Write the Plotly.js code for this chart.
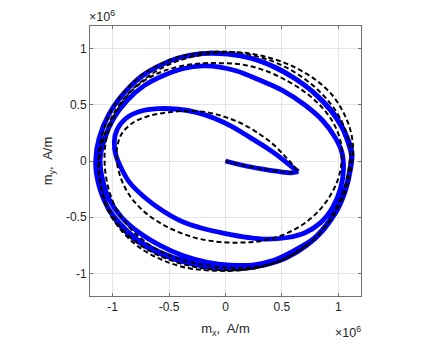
<!DOCTYPE html>
<html>
<head>
<meta charset="utf-8">
<script src="https://cdn.plot.ly/plotly-3.0.1.min.js"></script>
<style>html,body{margin:0;padding:0;background:#fff;}#chart{width:436px;height:345px;}</style>
</head>
<body>
<div id="chart"></div>
<script>
// Values in units of 1e6 A/m (axis exponent shown as ×10^6)
const tickVals = [-1, -0.5, 0, 0.5, 1];
const tickText = ["-1", "-0.5", "0", "0.5", "1"];

// Simulated (blue) trajectory: initial segment to the tip
const blueStartX = [0, 0.16, 0.32, 0.48, 0.58, 0.645];
const blueStartY = [0, -0.04, -0.07, -0.095, -0.105, -0.095];
// Simulated (blue) trajectory: from the tip onward
const blueX = [0.645, 0.56, 0.46, 0.36, 0.2, 0.05, -0.1, -0.25, -0.42, -0.6, -0.76, -0.88, -0.96, -0.985, -0.97, -0.92, -0.85, -0.72, -0.56, -0.38, -0.2, 0.0, 0.2, 0.36, 0.55, 0.7, 0.84, 0.95, 1.02,
  1.045, 1.03, 0.97, 0.86, 0.7, 0.5, 0.3, 0.1, -0.05, -0.2, -0.38, -0.55, -0.72, -0.87, -0.99, -1.07, -1.11,
  -1.09, -1.03, -0.92, -0.76, -0.58, -0.38, -0.16, 0.04, 0.24, 0.42, 0.6, 0.78, 0.92, 1.03, 1.09, 1.115,
  1.09, 1.03, 0.93, 0.8, 0.65, 0.45, 0.24, 0.02, -0.2, -0.4, -0.58, -0.75, -0.9, -1.03, -1.12, -1.15,
  -1.13, -1.06, -0.94, -0.78, -0.58, -0.36, -0.12, 0.1, 0.3, 0.5, 0.68, 0.84, 0.97, 1.06, 1.11, 1.12,
  1.09, 1.02, 0.92, 0.78, 0.62, 0.42, 0.2, -0.02, -0.22, -0.42, -0.6, -0.77, -0.92, -1.04, -1.12, -1.15,
  -1.12, -1.04, -0.91, -0.74, -0.54, -0.32, -0.08, 0.14, 0.34, 0.54, 0.72, 0.87, 0.99, 1.07, 1.11];
const blueY = [-0.095, -0.03, 0.05, 0.12, 0.22, 0.31, 0.38, 0.43, 0.46, 0.465, 0.44, 0.38, 0.28, 0.17, 0.05, -0.07, -0.19, -0.32, -0.44, -0.54, -0.6, -0.645, -0.68, -0.695, -0.68, -0.64, -0.55, -0.41, -0.24,
  -0.07, 0.08, 0.21, 0.36, 0.5, 0.63, 0.72, 0.8, 0.835, 0.845, 0.82, 0.76, 0.67, 0.54, 0.38, 0.2, 0.02,
  -0.16, -0.34, -0.5, -0.64, -0.75, -0.84, -0.9, -0.925, -0.925, -0.885, -0.8, -0.69, -0.53, -0.34, -0.14, 0.05,
  0.15, 0.3, 0.45, 0.59, 0.71, 0.83, 0.91, 0.95, 0.955, 0.92, 0.85, 0.75, 0.6, 0.42, 0.2, 0.0,
  -0.18, -0.38, -0.55, -0.7, -0.81, -0.89, -0.94, -0.95, -0.93, -0.87, -0.77, -0.64, -0.47, -0.27, -0.06, 0.08,
  0.18, 0.33, 0.47, 0.61, 0.73, 0.84, 0.92, 0.955, 0.955, 0.915, 0.84, 0.73, 0.58, 0.4, 0.18, -0.02,
  -0.22, -0.42, -0.6, -0.74, -0.84, -0.91, -0.95, -0.955, -0.925, -0.86, -0.75, -0.61, -0.43, -0.22, -0.02];

// Reference (black dashed) trajectory: initial segment to the tip
const refStartX = [0, 0.16, 0.32, 0.48, 0.58, 0.635];
const refStartY = [0, -0.04, -0.07, -0.093, -0.1, -0.085];
// Reference (black dashed) trajectory: from the tip onward
const refX = [0.635, 0.6, 0.52, 0.42, 0.3, 0.15, 0.0, -0.15, -0.35, -0.52, -0.68, -0.82, -0.92, -0.96, -0.96, -0.92, -0.84, -0.72, -0.58, -0.42, -0.24, -0.05, 0.15, 0.32, 0.5, 0.66, 0.8, 0.92, 1.0, 1.03,
  1.02, 0.96, 0.86, 0.72, 0.55, 0.36, 0.16, -0.05, -0.25, -0.45, -0.62, -0.78, -0.91, -1.0, -1.06, -1.07,
  -1.04, -0.97, -0.86, -0.71, -0.52, -0.3, -0.08, 0.14, 0.34, 0.54, 0.72, 0.87, 0.98, 1.06, 1.1,
  1.1, 1.06, 0.98, 0.86, 0.7, 0.5, 0.28, 0.05, -0.18, -0.4, -0.6, -0.77, -0.92, -1.03, -1.1, -1.125,
  -1.1, -1.02, -0.89, -0.72, -0.52, -0.28, -0.04, 0.2, 0.42, 0.62, 0.8, 0.94, 1.05, 1.11, 1.13,
  1.11, 1.05, 0.95, 0.8, 0.6, 0.38, 0.14, -0.1, -0.32, -0.52, -0.7, -0.86, -0.99, -1.08, -1.12,
  -1.1, -1.04, -0.92, -0.76, -0.56, -0.34, -0.1, 0.14, 0.36, 0.56, 0.74];
const refY = [-0.085, -0.04, 0.05, 0.15, 0.24, 0.33, 0.39, 0.43, 0.445, 0.43, 0.4, 0.34, 0.24, 0.12, -0.02, -0.17, -0.32, -0.45, -0.55, -0.63, -0.69, -0.72, -0.725, -0.71, -0.66, -0.58, -0.47, -0.32, -0.15, 0.02,
  0.17, 0.33, 0.47, 0.6, 0.71, 0.8, 0.855, 0.87, 0.865, 0.83, 0.77, 0.67, 0.53, 0.36, 0.17, -0.03,
  -0.23, -0.42, -0.58, -0.72, -0.83, -0.9, -0.94, -0.95, -0.93, -0.86, -0.75, -0.6, -0.42, -0.22, 0.0,
  0.14, 0.28, 0.44, 0.59, 0.73, 0.85, 0.93, 0.97, 0.965, 0.93, 0.85, 0.74, 0.59, 0.41, 0.2, -0.02,
  -0.24, -0.45, -0.63, -0.77, -0.87, -0.94, -0.97, -0.96, -0.91, -0.82, -0.68, -0.51, -0.3, -0.08, 0.1,
  0.26, 0.42, 0.58, 0.72, 0.84, 0.92, 0.965, 0.96, 0.92, 0.85, 0.74, 0.6, 0.42, 0.2, -0.02,
  -0.24, -0.44, -0.62, -0.77, -0.88, -0.95, -0.975, -0.97, -0.93, -0.85, -0.73];

const blueLine = {color: '#0000ff', width: 4.8, shape: 'spline', smoothing: 1};
const refLine = {color: '#000000', width: 2, dash: '5px,3px', shape: 'spline', smoothing: 1};

const traces = [
  {x: blueStartX, y: blueStartY, mode: 'lines', line: blueLine, hoverinfo: 'skip'},
  {x: blueX, y: blueY, mode: 'lines', line: blueLine, hoverinfo: 'skip'},
  {x: refStartX, y: refStartY, mode: 'lines', line: refLine, hoverinfo: 'skip'},
  {x: refX, y: refY, mode: 'lines', line: refLine, hoverinfo: 'skip'}
];

const fam = 'Liberation Sans, Arial, Helvetica, sans-serif';
const fnt = {family: fam, size: 12, color: '#262626'};
const axisCommon = {
  range: [-1.2, 1.2], tickvals: tickVals, ticktext: tickText,
  showgrid: true, gridcolor: '#e5e5e5', gridwidth: 1,
  zeroline: false, showline: true, linecolor: '#707070', linewidth: 1, mirror: 'ticks',
  ticks: 'inside', ticklen: 3, tickcolor: '#707070', tickfont: fnt, fixedrange: true
};

const layout = {
  width: 436, height: 345,
  margin: {l: 90, r: 75, t: 26, b: 49},
  paper_bgcolor: '#ffffff', plot_bgcolor: '#ffffff',
  showlegend: false,
  font: fnt,
  xaxis: Object.assign({}, axisCommon, {title: {text: 'm<sub>x</sub>,  A/m', font: {family: fam, size: 13, color: '#262626'}, standoff: 10}}),
  yaxis: Object.assign({}, axisCommon, {title: {text: 'm<sub>y</sub>,  A/m', font: {family: fam, size: 13, color: '#262626'}, standoff: 10}}),
  annotations: [
    {text: '×10<sup>6</sup>', xref: 'paper', yref: 'paper', x: 0, y: 1, xanchor: 'left', yanchor: 'bottom', xshift: -3, showarrow: false, font: {family: fam, size: 12.5, color: '#262626'}},
    {text: '×10<sup>6</sup>', xref: 'paper', yref: 'paper', x: 1, y: 0, xanchor: 'right', yanchor: 'top', xshift: 2, yshift: -26, showarrow: false, font: {family: fam, size: 12.5, color: '#262626'}}
  ]
};

Plotly.newPlot('chart', traces, layout, {staticPlot: true, displayModeBar: false});
</script>
</body>
</html>
